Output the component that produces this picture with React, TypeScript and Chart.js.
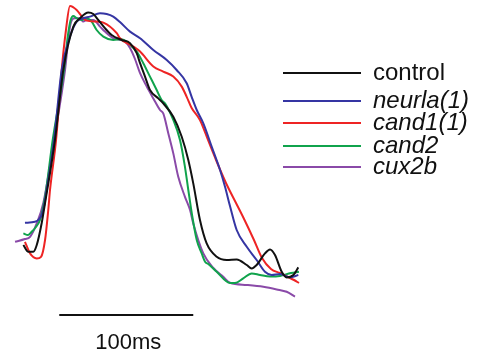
import React, { useEffect, useRef } from "react";
import { Chart, registerables } from "chart.js";

Chart.register(...registerables);

// time (ms) and membrane potential (mV-like units) for each trace
const controlT = [2.5, 6.2, 9.9, 12.5, 16.2, 18.7, 26.1, 32.3, 39.8, 44.8, 51.0, 54.7, 58.4, 63.4, 68.4, 75.9, 82.1, 87.1, 89.6, 93.3, 97.0, 103.2, 106.9, 114.4, 120.7, 125.6, 129.3, 134.3, 139.3, 146.8, 154.3, 161.7, 169.2, 172.9, 176.6, 182.8, 186.6, 190.3, 195.3, 199.0, 204.0, 207.7];
const controlV = [-77.5, -80.9, -80.9, -77.5, -66.5, -56.5, -25, 10, 31.7, 35.9, 38.7, 38, 35, 30.9, 27.5, 25, 23.4, 18.4, 13.4, 6.7, 0, -4.2, -6.7, -13.4, -23.4, -35, -46.7, -65, -76.7, -83.4, -85, -84.7, -87.5, -89.2, -87.5, -81.7, -79.7, -82.5, -90.9, -93.7, -92.5, -88.7];

const neurlaT = [3.7, 11.2, 14.9, 17.4, 19.9, 25.4, 31.1, 37.3, 42.3, 47.2, 52.2, 59.7, 64.7, 69.6, 74.6, 82.1, 89.6, 99.5, 109.5, 116.9, 124.4, 128.1, 131.9, 136.8, 143.1, 149.3, 153.0, 156.7, 161.7, 169.2, 176.6, 182.8, 187.8, 194.0, 201.5, 207.7];
const neurlaV = [-66.4, -65.9, -64, -60, -50, -25, 10, 26.7, 34.2, 35.9, 36.7, 38.4, 38, 36.7, 34, 29.2, 25.9, 20, 15, 10, 3.4, -3.4, -10, -16.7, -28.4, -40, -48.4, -58, -70, -78.4, -85, -90.9, -92.5, -92, -93.7, -92.5];

const cand1T = [3.7, 7.5, 12.5, 15.7, 18.7, 21.1, 22.4, 26.9, 31.1, 34.3, 37.3, 42.3, 47.2, 49.8, 57.2, 62.2, 72.2, 74.6, 84.6, 89.6, 99.5, 106.9, 114.4, 120.7, 124.4, 128.1, 134.3, 140.3, 146.3, 153.7, 161.2, 167.2, 174.6, 180.6, 187.3, 194.0, 200.0, 204.5, 208.2];
const cand1V = [-75.9, -81.7, -84.2, -83.4, -75, -60, -50, -25, 10, 30, 42, 40, 35.9, 34.7, 34.2, 33.7, 28.4, 25.9, 21.7, 19.2, 11.7, 9.2, 6.7, 1.7, -3.4, -9, -15, -25, -35, -46.5, -56.5, -64.5, -75, -84, -89.5, -91.5, -93.5, -95, -96.5];

const cand2T = [2.5, 6.0, 8.7, 11.9, 14.9, 18.7, 24.4, 32.8, 35.8, 37.8, 39.8, 42.3, 46.0, 49.8, 53.5, 57.2, 62.2, 69.6, 75.9, 79.6, 83.4, 87.1, 92.0, 97.0, 102.0, 105.7, 108.2, 114.4, 119.4, 123.1, 125.6, 128.4, 131.9, 135.6, 138.1, 140.5, 146.8, 156.7, 160.4, 166.6, 172.9, 179.1, 186.6, 194.0, 202.2, 208.2];
const cand2V = [-71.7, -72.5, -70.9, -68.5, -65, -53.4, -25, 10, 27.5, 35, 37, 35.9, 35, 35.9, 34.2, 30, 26.7, 25, 25.4, 24.2, 21.7, 19.2, 13.4, 6.7, 0, -5, -6.7, -15, -25, -38.4, -50, -62.5, -75, -81.7, -85.9, -87, -90.9, -96.5, -96.5, -94.2, -91.7, -92.5, -93.3, -93, -91.5, -90.9];

const cux2bT = [-3.7, 3.7, 7.5, 12.5, 17.4, 25.4, 33.6, 37.3, 41.0, 44.8, 47.2, 49.8, 54.7, 59.7, 63.4, 69.6, 78.4, 82.1, 85.8, 89.6, 94.6, 99.5, 104.5, 106.9, 110.7, 114.4, 118.1, 123.1, 126.9, 129.3, 136.8, 144.3, 151.7, 156.7, 169.2, 181.6, 191.6, 199.0, 205.2];
const cux2bV = [-75.9, -74.5, -73.4, -66.7, -56.5, -25, 10, 31.7, 35.9, 35.9, 34.2, 35, 35, 31.7, 29.2, 25.9, 24.2, 21, 15.5, 8.4, 1.7, -4.2, -10, -11.7, -21.7, -31.7, -43.4, -53.4, -60, -66.7, -81.7, -89, -93.4, -96.4, -97.5, -98.4, -99.7, -100.9, -103.3];

const seriesNames = ["control", "neurla(1)", "cand1(1)", "cand2", "cux2b"];
const seriesItalic = [false, true, true, true, true];
const seriesColors = ["#111111", "#3535a3", "#ee2424", "#10a34c", "#8a4aa8"];
const seriesTimes = [controlT, neurlaT, cand1T, cand2T, cux2bT];
const seriesValues = [controlV, neurlaV, cand1V, cand2V, cux2bV];

const scaleBarStartMs = 29.3;
const scaleBarLengthMs = 100;
const scaleBarLevel = -112.5;
const scaleBarLabel = "100ms";

const legendPlugin = {
  id: "customLegend",
  afterDraw(chart: any) {
    const ctx = chart.ctx;
    ctx.save();
    const ys = [73, 101, 123, 146, 167];
    seriesNames.forEach((name, i) => {
      ctx.strokeStyle = seriesColors[i];
      ctx.lineWidth = 2;
      ctx.beginPath();
      ctx.moveTo(283, ys[i]);
      ctx.lineTo(361, ys[i]);
      ctx.stroke();
      ctx.fillStyle = "#111111";
      ctx.font = (seriesItalic[i] ? "italic " : "") + "24px 'Liberation Sans', Arial, sans-serif";
      ctx.textAlign = "left";
      ctx.textBaseline = "alphabetic";
      ctx.fillText(name, 373, ys[i] + 7);
    });
    // scale bar
    const xs = chart.scales.x;
    const yscale = chart.scales.y;
    const x1 = xs.getPixelForValue(scaleBarStartMs);
    const x2 = xs.getPixelForValue(scaleBarStartMs + scaleBarLengthMs);
    const yb = yscale.getPixelForValue(scaleBarLevel);
    ctx.strokeStyle = "#111111";
    ctx.lineWidth = 2;
    ctx.beginPath();
    ctx.moveTo(x1, yb);
    ctx.lineTo(x2, yb);
    ctx.stroke();
    ctx.font = "22px 'Liberation Sans', Arial, sans-serif";
    ctx.textAlign = "center";
    ctx.fillText(scaleBarLabel, (x1 + x2) / 2 + 2, yb + 33.5);
    ctx.restore();
  },
};

export default function App() {
  const ref = useRef<HTMLCanvasElement | null>(null);
  useEffect(() => {
    document.body.style.margin = "0";
    const canvas = ref.current;
    if (!canvas) return;
    const chart = new Chart(canvas, {
      type: "line",
      data: {
        datasets: seriesNames.map((name, i) => ({
          label: name,
          data: seriesTimes[i].map((t, j) => ({ x: t, y: seriesValues[i][j] })),
          borderColor: seriesColors[i],
          borderWidth: 2,
          pointRadius: 0,
          cubicInterpolationMode: "monotone" as const,
          fill: false,
        })),
      },
      options: {
        responsive: false,
        animation: false,
        layout: { padding: 0 },
        plugins: { legend: { display: false }, tooltip: { enabled: false } },
        scales: {
          x: { type: "linear", min: -14.925, max: 350.746, display: false },
          y: { type: "linear", min: -134, max: 45, display: false },
        },
      },
      plugins: [legendPlugin],
    });
    return () => chart.destroy();
  }, []);
  return (
    <div style={{ width: 490, height: 358, background: "#ffffff" }}>
      <canvas ref={ref} width={490} height={358} style={{ display: "block" }} />
    </div>
  );
}
